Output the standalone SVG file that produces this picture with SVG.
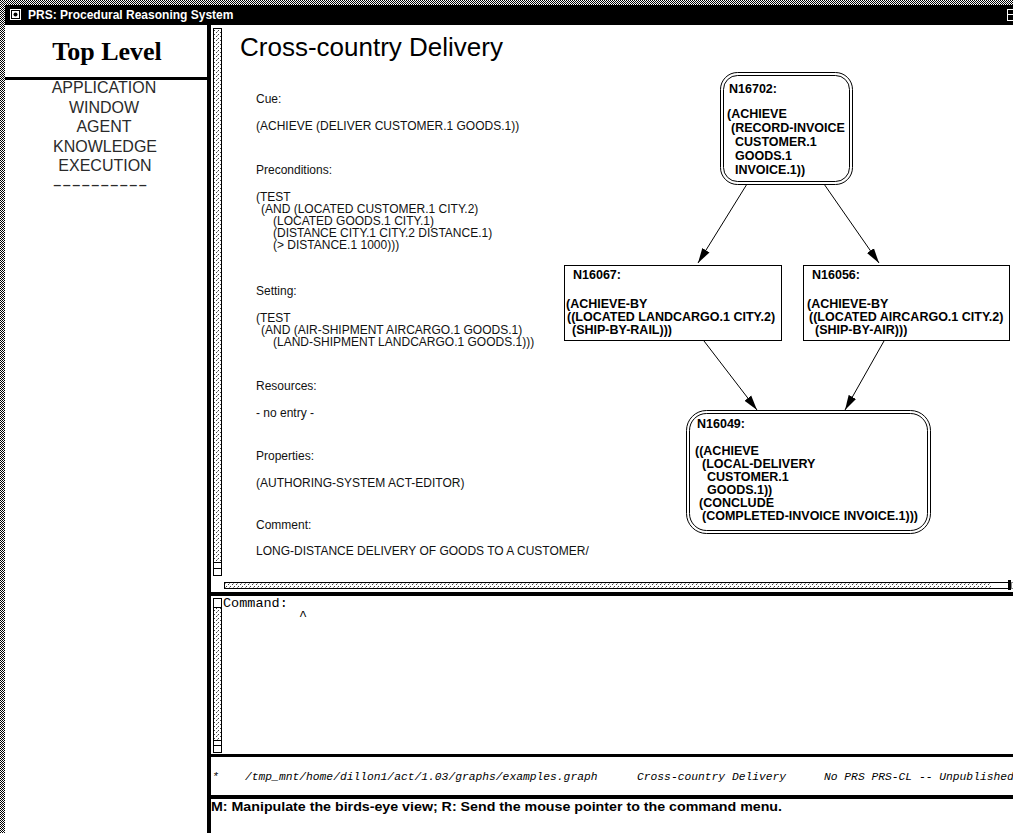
<svg xmlns="http://www.w3.org/2000/svg" width="1013" height="833" viewBox="0 0 1013 833">
  <defs>
    <!-- 50% dither used for the window frame -->
    <pattern id="dither" width="2" height="2" patternUnits="userSpaceOnUse">
      <rect width="2" height="2" fill="#fff"/>
      <rect width="1" height="1" fill="#000"/>
      <rect x="1" y="1" width="1" height="1" fill="#000"/>
    </pattern>
    <!-- light stipple used for scrollbars -->
    <pattern id="stipple" width="4" height="4" patternUnits="userSpaceOnUse">
      <rect width="4" height="4" fill="#fff"/>
      <rect width="1" height="1" fill="#444"/>
      <rect x="2" y="2" width="1" height="1" fill="#444"/>
      <rect x="1" y="3" width="1" height="1" fill="#999"/>
    </pattern>
    <marker id="arrow" markerWidth="16" markerHeight="10" refX="15" refY="5" orient="auto" markerUnits="userSpaceOnUse">
      <path d="M0,0.8 L15,5 L0,9.2 Z" fill="#000"/>
    </marker>
  </defs>
  <style>
    .titlebar { font-family: "Liberation Sans", Arial, sans-serif; font-size: 12px; font-weight: bold; fill: #fff; }
    .toplevel { font-family: "Liberation Serif", "Times New Roman", serif; font-size: 26px; font-weight: bold; fill: #000; text-anchor: middle; }
    .menu { font-family: "Liberation Sans", Arial, sans-serif; font-size: 16px; fill: #2a2a2a; text-anchor: middle; }
    .heading { font-family: "Liberation Sans", Arial, sans-serif; font-size: 26px; fill: #000; }
    .body { font-family: "Liberation Sans", Arial, sans-serif; font-size: 12px; fill: #111; }
    .node { font-family: "Liberation Sans", Arial, sans-serif; font-size: 12.5px; font-weight: bold; fill: #000; }
    .cmd { font-family: "Liberation Mono", "Courier New", monospace; font-size: 13.5px; fill: #000; }
    .status { font-family: "Liberation Mono", "Courier New", monospace; font-style: italic; font-size: 11.3px; fill: #000; }
    .msg { font-family: "Liberation Sans", Arial, sans-serif; font-size: 13px; font-weight: bold; fill: #000; }
    .edge { stroke: #000; stroke-width: 1; fill: none; marker-end: url(#arrow); }
    .box { fill: #fff; stroke: #000; stroke-width: 1; }
    .ring { fill: none; stroke: #000; stroke-width: 1; }
    .scroll { fill: url(#stipple); stroke: #000; stroke-width: 1; }
    .knob { fill: #fff; stroke: #000; stroke-width: 1; }
  </style>

  <!-- window frame and title bar -->
  <g id="window">
    <rect x="0" y="0" width="1013" height="833" fill="#fff"/>
    <rect x="0" y="0" width="1013" height="5" fill="url(#dither)"/>
    <rect x="0" y="0" width="5" height="833" fill="url(#dither)"/>
    <rect x="5" y="5" width="1008" height="20" fill="#000"/>
    <rect x="10" y="9" width="11" height="11" fill="#fff"/>
    <rect x="11.5" y="10.5" width="8" height="8" fill="#fff" stroke="#000" stroke-width="1"/>
    <circle cx="15.5" cy="14.5" r="2" fill="#000"/>
    <text class="titlebar" x="28" y="19">PRS:  Procedural Reasoning System</text>
    <rect x="1007.5" y="9.5" width="8" height="11" fill="none" stroke="#fff" stroke-width="1"/>
    <line x1="1007.5" y1="14.5" x2="1013" y2="14.5" stroke="#fff" stroke-width="1"/>
  </g>

  <!-- command menu panel -->
  <g id="menu-panel">
    <text class="toplevel" x="107" y="60">Top Level</text>
    <rect x="5" y="77" width="202" height="3" fill="#000"/>
    <text class="menu" x="104" y="93">APPLICATION</text>
    <text class="menu" x="104" y="112.5">WINDOW</text>
    <text class="menu" x="104" y="132">AGENT</text>
    <text class="menu" x="105" y="151.5">KNOWLEDGE</text>
    <text class="menu" x="105" y="171">EXECUTION</text>
    <text class="menu" x="100" y="190" textLength="95" lengthAdjust="spacingAndGlyphs">----------</text>
    <rect x="207" y="25" width="4" height="808" fill="#000"/>
  </g>

  <!-- graph pane: scrollbars -->
  <g id="graph-scrollbars">
    <rect class="scroll" x="213.5" y="28.5" width="8" height="534"/>
    <rect class="knob" x="213.5" y="562.5" width="8" height="6"/>
    <rect class="knob" x="213.5" y="568.5" width="8" height="7"/>
    <rect class="scroll" x="224.5" y="582.5" width="784" height="6"/>
    <rect x="992" y="583" width="16" height="5" fill="#fff"/>
    <rect x="1008" y="580" width="3" height="10" fill="#000"/>
    <rect x="1011.5" y="582.5" width="4" height="6" fill="#fff" stroke="#888" stroke-width="1"/>
    <rect x="207" y="592" width="806" height="4" fill="#000"/>
  </g>

  <!-- act description -->
  <g id="act-text">
    <text class="heading" x="240" y="56">Cross-country Delivery</text>
    <text class="body" x="256" y="103">Cue:</text>
    <text class="body" x="256" y="130">(ACHIEVE (DELIVER CUSTOMER.1 GOODS.1))</text>
    <text class="body" x="256" y="174">Preconditions:</text>
    <text class="body" x="256" y="201">(TEST</text>
    <text class="body" x="261" y="213">(AND (LOCATED CUSTOMER.1 CITY.2)</text>
    <text class="body" x="273" y="225">(LOCATED GOODS.1 CITY.1)</text>
    <text class="body" x="273" y="237">(DISTANCE CITY.1 CITY.2 DISTANCE.1)</text>
    <text class="body" x="273" y="249">(&gt; DISTANCE.1 1000)))</text>
    <text class="body" x="256" y="295">Setting:</text>
    <text class="body" x="256" y="322">(TEST</text>
    <text class="body" x="261" y="334">(AND (AIR-SHIPMENT AIRCARGO.1 GOODS.1)</text>
    <text class="body" x="273" y="346">(LAND-SHIPMENT LANDCARGO.1 GOODS.1)))</text>
    <text class="body" x="256" y="390">Resources:</text>
    <text class="body" x="256" y="417">- no entry -</text>
    <text class="body" x="256" y="460">Properties:</text>
    <text class="body" x="256" y="487">(AUTHORING-SYSTEM ACT-EDITOR)</text>
    <text class="body" x="256" y="529">Comment:</text>
    <text class="body" x="256" y="555">LONG-DISTANCE DELIVERY OF GOODS TO A CUSTOMER/</text>
  </g>

  <!-- graph connectors -->
  <g id="edges">
    <path class="edge" d="M747,184 L698,263"/>
    <path class="edge" d="M824,184 L879,263"/>
    <path class="edge" d="M704,341 L757,410"/>
    <path class="edge" d="M884,341 L845,410"/>
  </g>

  <!-- graph nodes -->
  <g id="N16702">
    <rect class="box" x="720.5" y="72.5" width="132" height="112" rx="17" ry="17"/>
    <rect class="ring" x="723.5" y="75.5" width="126" height="106" rx="14" ry="14"/>
    <text class="node" x="729" y="93">N16702:</text>
    <text class="node" x="727" y="118">(ACHIEVE</text>
    <text class="node" x="731" y="132">(RECORD-INVOICE</text>
    <text class="node" x="735" y="146">CUSTOMER.1</text>
    <text class="node" x="735" y="160">GOODS.1</text>
    <text class="node" x="735" y="174">INVOICE.1))</text>
  </g>

  <g id="N16067">
    <rect class="box" x="564.5" y="265.5" width="217" height="75"/>
    <text class="node" x="573" y="279">N16067:</text>
    <text class="node" x="566" y="308">(ACHIEVE-BY</text>
    <text class="node" x="567" y="321">((LOCATED LANDCARGO.1 CITY.2)</text>
    <text class="node" x="572" y="334">(SHIP-BY-RAIL)))</text>
  </g>

  <g id="N16056">
    <rect class="box" x="803.5" y="265.5" width="206" height="75"/>
    <text class="node" x="812" y="279">N16056:</text>
    <text class="node" x="807" y="308">(ACHIEVE-BY</text>
    <text class="node" x="809" y="321">((LOCATED AIRCARGO.1 CITY.2)</text>
    <text class="node" x="815" y="334">(SHIP-BY-AIR)))</text>
  </g>

  <g id="N16049">
    <rect class="box" x="686.5" y="410.5" width="244" height="123" rx="20" ry="20"/>
    <rect class="ring" x="689.5" y="413.5" width="238" height="117" rx="17" ry="17"/>
    <text class="node" x="697" y="428">N16049:</text>
    <text class="node" x="695" y="455">((ACHIEVE</text>
    <text class="node" x="702" y="468">(LOCAL-DELIVERY</text>
    <text class="node" x="707" y="481">CUSTOMER.1</text>
    <text class="node" x="707" y="494">GOODS.1))</text>
    <text class="node" x="699" y="507">(CONCLUDE</text>
    <text class="node" x="702" y="520">(COMPLETED-INVOICE INVOICE.1)))</text>
  </g>

  <!-- command pane -->
  <g id="command-pane">
    <rect class="knob" x="213.5" y="598.5" width="8" height="9"/>
    <rect class="scroll" x="213.5" y="607.5" width="8" height="133"/>
    <rect class="knob" x="213.5" y="740.5" width="8" height="5"/>
    <rect class="knob" x="213.5" y="745.5" width="8" height="7"/>
    <text class="cmd" x="223" y="607">Command:</text>
    <text class="cmd" x="299" y="620" font-size="11">^</text>
    <rect x="207" y="754" width="806" height="3" fill="#000"/>
  </g>

  <!-- status line; the last field runs past the right edge of the window -->
  <g id="status-line">
    <text class="status" x="212" y="780">*</text>
    <text class="status" x="245" y="780">/tmp_mnt/home/dillon1/act/1.03/graphs/examples.graph</text>
    <text class="status" x="637" y="780">Cross-country Delivery</text>
    <text class="status" x="824" y="780">No PRS PRS-CL -- Unpublished</text>
    <rect x="207" y="795" width="806" height="4" fill="#000"/>
  </g>

  <!-- message line -->
  <g id="message-line">
    <text class="msg" x="211" y="811" textLength="571" lengthAdjust="spacingAndGlyphs">M: Manipulate the birds-eye view; R: Send the mouse pointer to the command menu.</text>
  </g>
</svg>
